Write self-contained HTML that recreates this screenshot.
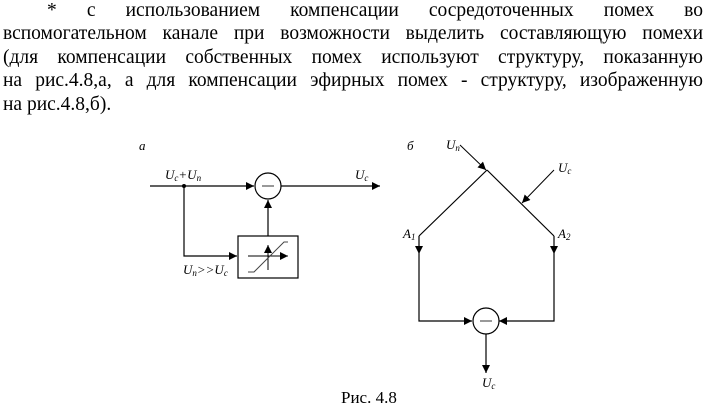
<!DOCTYPE html>
<html><head><meta charset="utf-8"><style>
html,body{margin:0;padding:0;background:#fff;}
svg{display:block;position:absolute;left:0;top:0;}
text{font-family:"Liberation Serif","DejaVu Serif",serif;fill:#000;}
.i{font-style:italic;font-size:13px;}
.s{font-size:9px;font-style:italic;}
.ln{position:absolute;font-family:"Liberation Serif","DejaVu Serif",serif;font-size:19.5px;line-height:20px;white-space:nowrap;text-align:justify;text-align-last:justify;color:#000;}
</style></head><body>
<div class="ln" style="left:47px;top:1px;width:656px;">* с использованием компенсации сосредоточенных помех во</div>
<div class="ln" style="left:3px;top:24px;width:700px;">вспомогательном канале при возможности выделить составляющую помехи</div>
<div class="ln" style="left:3px;top:48px;width:700px;">(для компенсации собственных помех используют структуру, показанную</div>
<div class="ln" style="left:3px;top:71px;width:700px;">на рис.4.8,а, а для компенсации эфирных помех - структуру, изображенную</div>
<div class="ln" style="left:3px;top:95px;text-align:left;text-align-last:left;">на рис.4.8,б).</div>
<svg width="713" height="413" viewBox="0 0 713 413" xmlns="http://www.w3.org/2000/svg">
<defs>
<marker id="ar" viewBox="0 0 10 10" refX="10" refY="5" markerWidth="10" markerHeight="8" markerUnits="userSpaceOnUse" orient="auto"><path d="M0,0 L10,5 L0,10 z" fill="#000"/></marker>
</defs>
<g stroke="#000" stroke-width="1.2" fill="none">
<line x1="150" y1="186" x2="254" y2="186" marker-end="url(#ar)"/>
<circle cx="268" cy="186" r="13"/>
<line x1="262" y1="186" x2="274" y2="186" stroke="#555"/>
<line x1="281" y1="186" x2="380" y2="186" marker-end="url(#ar)"/>
<polyline points="184,186 184,256 237,256" marker-end="url(#ar)"/>
<rect x="238" y="236" width="60" height="42"/>
<line x1="268" y1="236" x2="268" y2="200" marker-end="url(#ar)"/>
<line x1="268" y1="270" x2="268" y2="245" marker-end="url(#ar)" stroke-width="1"/>
<line x1="248" y1="256" x2="288" y2="256" marker-end="url(#ar)" stroke-width="1"/>
<polyline points="248,272 254,272 284,242 288,242" stroke="#444" stroke-width="1"/>
<line x1="460" y1="145" x2="486" y2="170" marker-end="url(#ar)" stroke-width="1"/>
<line x1="554" y1="170" x2="522" y2="203" marker-end="url(#ar)" stroke-width="1"/>
<line x1="487" y1="170" x2="419" y2="236"/>
<line x1="487" y1="170" x2="554" y2="236"/>
<line x1="419" y1="236" x2="419" y2="254" marker-end="url(#ar)"/>
<line x1="554" y1="236" x2="554" y2="254" marker-end="url(#ar)"/>
<polyline points="419,254 419,321 472,321" marker-end="url(#ar)"/>
<polyline points="554,254 554,321 499,321" marker-end="url(#ar)"/>
<circle cx="486" cy="321" r="13"/>
<line x1="480" y1="321" x2="492" y2="321" stroke="#555"/>
<line x1="486" y1="334" x2="486" y2="373" marker-end="url(#ar)"/>
</g>
<circle cx="184" cy="186" r="2" fill="#000"/>
<text class="i" x="139" y="150">a</text>
<text class="i" x="165" y="179">U<tspan class="s" dy="2">c</tspan><tspan dy="-2">+U</tspan><tspan class="s" dy="2">n</tspan></text>
<text class="i" x="355" y="179">U<tspan class="s" dy="2">c</tspan></text>
<text class="i" x="183" y="274">U<tspan class="s" dy="2">n</tspan><tspan dy="-2">&gt;&gt;U</tspan><tspan class="s" dy="2">c</tspan></text>
<text class="i" x="407" y="150">б</text>
<text class="i" x="446" y="149">U<tspan class="s" dy="2">n</tspan></text>
<text class="i" x="558" y="172">U<tspan class="s" dy="2">c</tspan></text>
<text class="i" x="403" y="238">A<tspan class="s" dy="2">1</tspan></text>
<text class="i" x="558" y="238">A<tspan class="s" dy="2">2</tspan></text>
<text class="i" x="482" y="387">U<tspan class="s" dy="2">c</tspan></text>
<text x="341" y="403" style="font-size:17px">Рис. 4.8</text>
</svg>
</body></html>
